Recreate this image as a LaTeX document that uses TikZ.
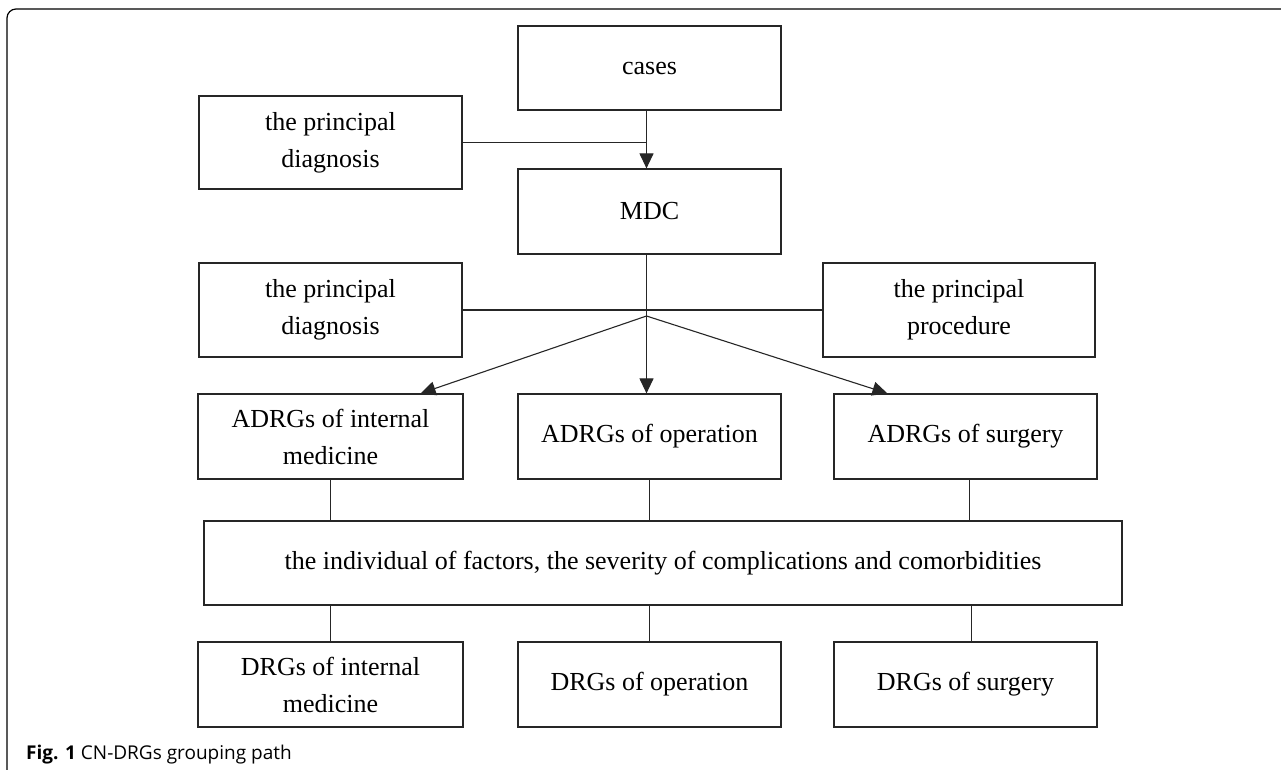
\documentclass[tikz,border=0pt]{standalone}
\usepackage{fontspec}
\setmainfont{Liberation Serif}
\newfontfamily\capfont{Open Sans}
\usepackage{tikz}
\usetikzlibrary{positioning,calc,arrows.meta}

\begin{document}
\begin{tikzpicture}[
    x=1pt, y=-1pt,
    box/.style={rectangle, draw=black!85, line width=1.2pt, inner sep=0pt, align=center,
                minimum width=263pt, minimum height=85pt,
                font=\fontsize{26}{37}\selectfont},
    link/.style={draw=black!85, line width=1.1pt},
    arrow/.style={link, -{Triangle[length=15pt,width=14pt]}}
]
\useasboundingbox (0,0) rectangle (1281,769);

% frame of the figure
\draw[line width=1.2pt, rounded corners=9pt] (7,780) -- (7,9) -- (1295,9);

\node[box, minimum height=84pt] (cases) at (649.5,68) {cases};
\node[box, minimum height=93pt] (diagA) at (330.5,142.5) {the principal\\diagnosis};
\node[box] (mdc) at (649.5,211.5) {MDC};
\node[box, minimum height=94pt] (diagB) at (330.5,310) {the principal\\diagnosis};
\node[box, minimum height=94pt, minimum width=272pt] (proc) at (959,310) {the principal\\procedure};

\node[box, minimum width=265pt] (adrgI) at (330.5,436.5) {ADRGs of internal\\medicine};
\node[box] (adrgO) at (649.5,436.5) {ADRGs of operation};
\node[box] (adrgS) at (965.5,436.5) {ADRGs of surgery};

\node[box, minimum width=918pt, minimum height=84pt] (cc) at (663,563)
    {the individual of factors, the severity of complications and comorbidities};

\node[box, minimum width=265pt] (drgI) at (330.5,684.5) {DRGs of internal\\medicine};
\node[box] (drgO) at (649.5,684.5) {DRGs of operation};
\node[box] (drgS) at (965.5,684.5) {DRGs of surgery};

\coordinate (hub) at (646.5,316);

\draw[arrow] (hub |- cases.south) -- (hub |- mdc.north);
\draw[link] (diagA.east) -- (diagA.east -| hub);
\draw[link] (hub |- mdc.south) -- (hub);
\draw[link, line width=1.5pt] (diagB) -- (proc);

\draw[arrow] (hub) -- ([xshift=-43pt]adrgI.north east);
\draw[arrow] (hub) -- (hub |- adrgO.north);
\draw[arrow] (hub) -- ([xshift=54pt]adrgS.north west);

\draw[link] (adrgI) -- (adrgI |- cc.north);
\draw[link] (adrgO) -- (adrgO |- cc.north);
\draw[link] (adrgS.south) ++(4,0) -- ++(0,42);
\draw[link] (drgI) -- (drgI |- cc.south);
\draw[link] (drgO) -- (drgO |- cc.south);
\draw[link] (drgS.north) ++(6,0) -- ++(0,-37);

\node[anchor=base west, inner sep=0pt, font=\capfont\fontsize{19}{22}\selectfont] (cap) at (26,759)
    {\textbf{Fig. 1} CN-DRGs grouping path};

\end{tikzpicture}
\end{document}
